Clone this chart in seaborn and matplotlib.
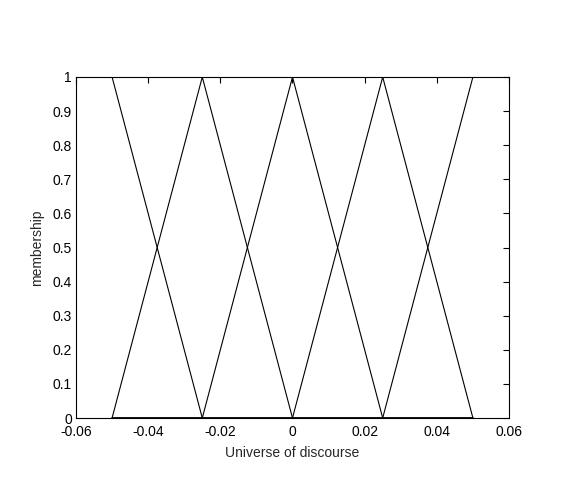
import matplotlib
matplotlib.use("Agg")
import matplotlib.pyplot as plt
import seaborn as sns
import pandas as pd

# breakpoints on the universe of discourse
x_points = [-0.05, -0.025, 0.0, 0.025, 0.05]

# membership values of each triangular MF at the breakpoints
mf_values = {
    "mf1": [1, 0, 0, 0, 0],
    "mf2": [0, 1, 0, 0, 0],
    "mf3": [0, 0, 1, 0, 0],
    "mf4": [0, 0, 0, 1, 0],
    "mf5": [0, 0, 0, 0, 1],
}

x_ticks = [-0.06, -0.04, -0.02, 0, 0.02, 0.04, 0.06]
x_labels = ["-0.06", "-0.04", "-0.02", "0", "0.02", "0.04", "0.06"]
y_ticks = [0, 0.1, 0.2, 0.3, 0.4, 0.5, 0.6, 0.7, 0.8, 0.9, 1]
y_labels = ["0", "0.1", "0.2", "0.3", "0.4", "0.5", "0.6", "0.7", "0.8", "0.9", "1"]

rows = []
for name, vals in mf_values.items():
    for xv, yv in zip(x_points, vals):
        rows.append({"x": xv, "membership": yv, "mf": name})
df = pd.DataFrame(rows)

sns.set_style("white")
plt.rcParams["font.family"] = ["Liberation Sans", "DejaVu Sans"]
plt.rcParams["font.size"] = 10

fig = plt.figure(figsize=(5.68, 4.92), dpi=100)
ax = fig.add_axes([0.1338, 0.1504, 0.7623, 0.6931])

sns.lineplot(data=df, x="x", y="membership", hue="mf",
             palette=["black"] * 5, linewidth=0.8, legend=False, ax=ax,
             sort=False, estimator=None)

ax.set_xlim(-0.06, 0.06)
ax.set_ylim(0, 1)
ax.set_xticks(x_ticks)
ax.set_xticklabels(x_labels)
ax.set_yticks(y_ticks)
ax.set_yticklabels(y_labels)
ax.tick_params(direction="in", length=4, width=0.8, top=True, right=True,
               labelsize=10, colors="black")
ax.tick_params(axis="x", pad=5)
ax.tick_params(axis="y", pad=3)
for s in ax.spines.values():
    s.set_visible(True)
    s.set_color("black")
    s.set_linewidth(0.8)
ax.set_xlabel("Universe of discourse", fontsize=10, labelpad=5)
ax.set_ylabel("membership", fontsize=10, labelpad=6)

fig.savefig("out.png", dpi=100, facecolor="white")
